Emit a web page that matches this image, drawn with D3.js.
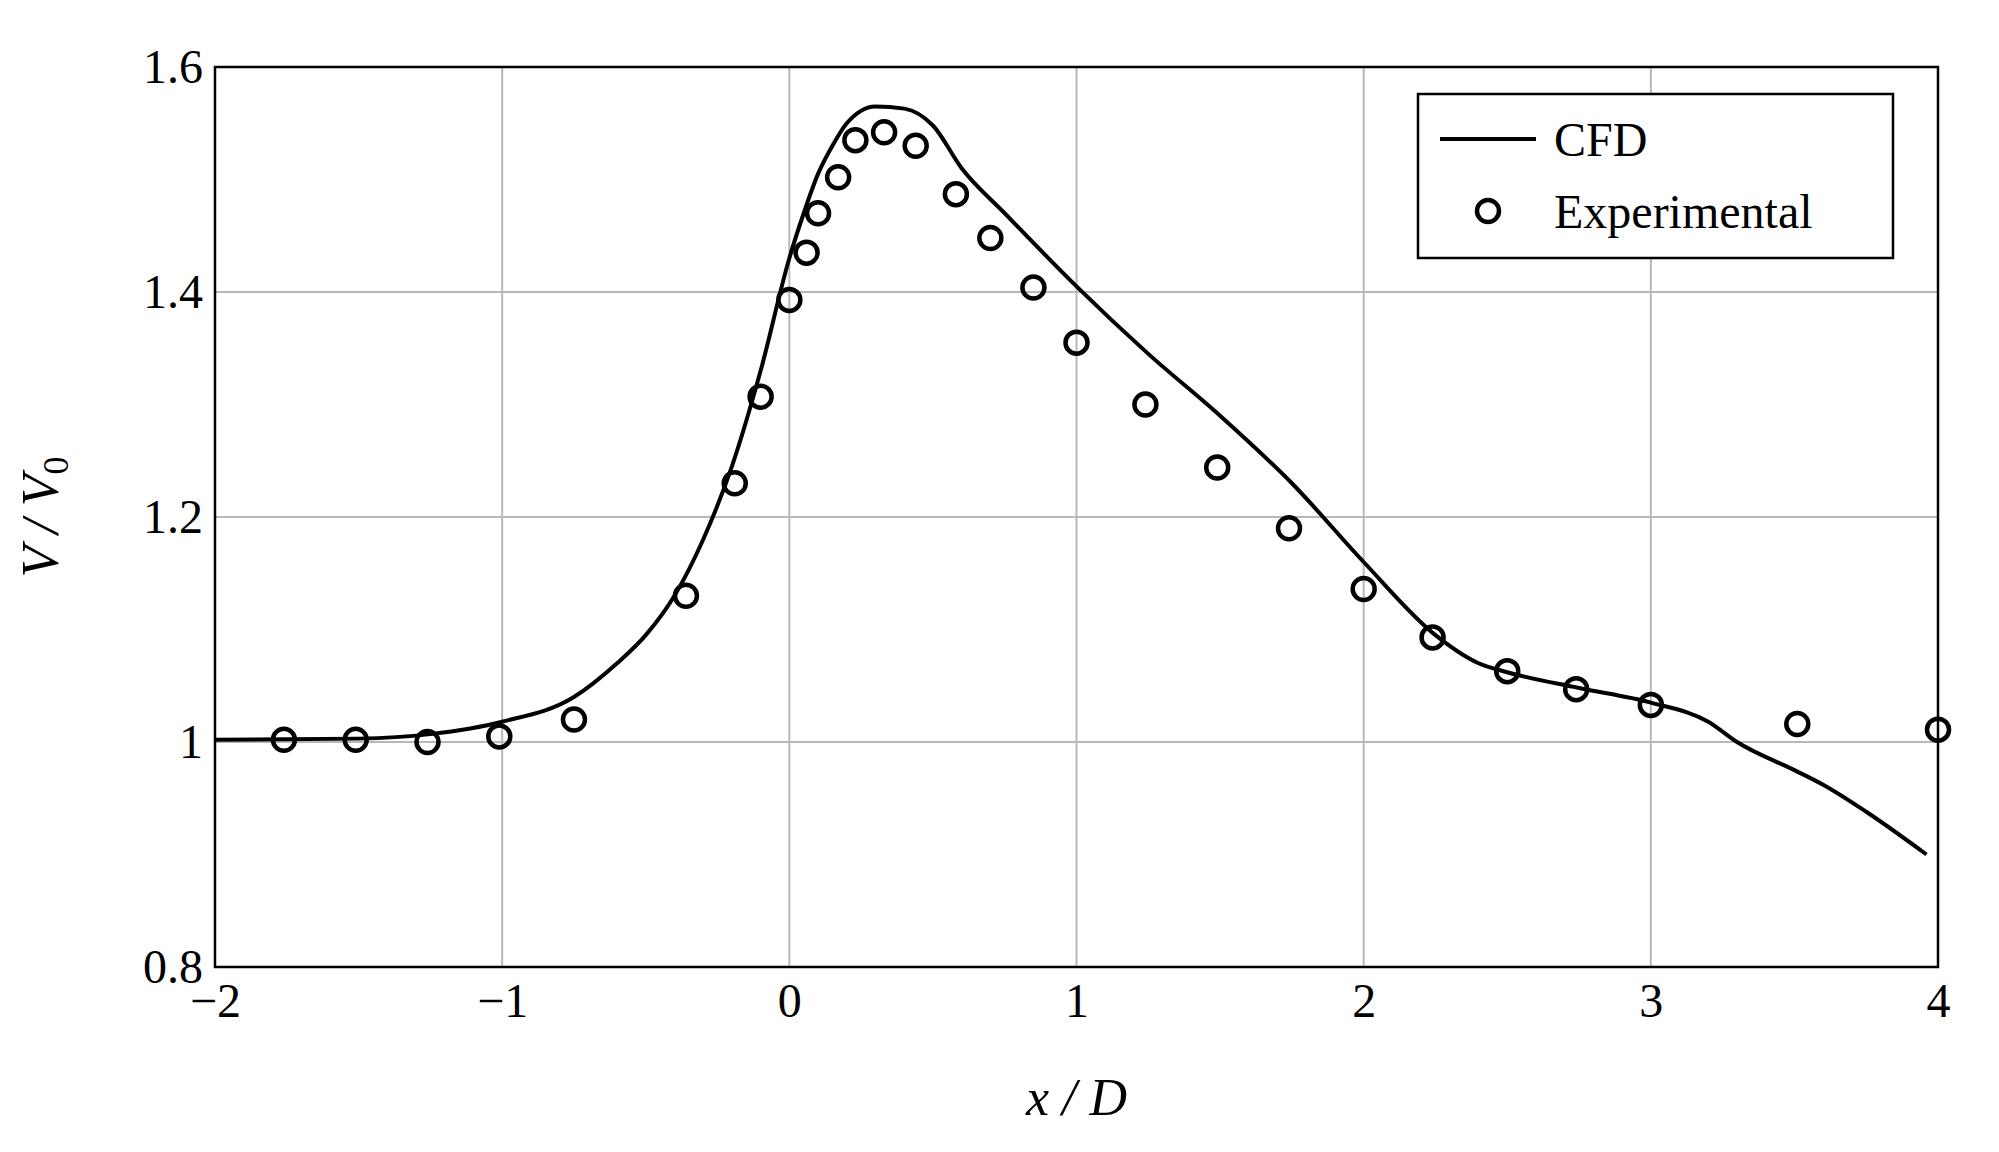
<!DOCTYPE html>
<html><head><meta charset="utf-8">
<script src="https://cdn.jsdelivr.net/npm/d3@7"></script>
<style>body{margin:0;background:#fff}svg{font-family:"Liberation Serif",serif}</style>
</head><body><div id="chart"></div>
<script>
// CFD curve
const cfdX = [-2,-1.5,-1.25,-1,-0.75,-0.6,-0.5,-0.4,-0.3,-0.2,-0.1,0,0.05,0.1,0.15,0.2,0.3,0.4,0.5,0.6,0.75,1,1.25,1.5,1.75,2,2.25,2.4,2.5,2.75,3,3.2,3.3,3.5,3.6,3.75,3.96];
const cfdY = [1.002,1.003,1.007,1.018,1.04,1.07,1.095,1.13,1.18,1.245,1.33,1.43,1.47,1.505,1.53,1.55,1.565,1.563,1.548,1.51,1.47,1.405,1.345,1.29,1.23,1.16,1.095,1.07,1.062,1.048,1.035,1.018,1.0,0.975,0.962,0.938,0.9];
// experimental points
const expX = [-1.76,-1.51,-1.26,-1.01,-0.75,-0.36,-0.19,-0.1,0,0.06,0.1,0.17,0.23,0.33,0.44,0.58,0.7,0.85,1,1.24,1.49,1.74,2,2.24,2.5,2.74,3,3.51,4];
const expY = [1.002,1.002,1.0,1.005,1.02,1.13,1.23,1.307,1.393,1.435,1.47,1.502,1.535,1.542,1.53,1.487,1.448,1.404,1.355,1.3,1.244,1.19,1.136,1.093,1.063,1.047,1.033,1.016,1.011];
const xTicks = [-2,-1,0,1,2,3,4];
const yTicks = [0.8,1,1.2,1.4,1.6];

const W = 1999, H = 1152;
const m = {left:215, right:61, top:67, bottom:185};
const svg = d3.select('#chart').append('svg').attr('width', W).attr('height', H);
const x = d3.scaleLinear().domain([-2,4]).range([m.left, W-m.right]);
const y = d3.scaleLinear().domain([0.8,1.6]).range([H-m.bottom, m.top]);

// grid
svg.append('g').selectAll('line').data(xTicks).enter().append('line')
  .attr('x1', d => x(d)).attr('x2', d => x(d)).attr('y1', m.top).attr('y2', H-m.bottom)
  .attr('stroke', '#b8b8b8').attr('stroke-width', 2);
svg.append('g').selectAll('line').data(yTicks).enter().append('line')
  .attr('x1', m.left).attr('x2', W-m.right).attr('y1', d => y(d)).attr('y2', d => y(d))
  .attr('stroke', '#b8b8b8').attr('stroke-width', 2);

const fmt = d => d < 0 ? '\u2212' + Math.abs(d) : String(d);
const xAxis = svg.append('g').attr('transform', `translate(0,${H-m.bottom})`)
  .call(d3.axisBottom(x).tickValues(xTicks).tickFormat(fmt).tickSize(0).tickPadding(16));
const yAxis = svg.append('g').attr('transform', `translate(${m.left},0)`)
  .call(d3.axisLeft(y).tickValues(yTicks).tickFormat(d => String(d)).tickSize(0).tickPadding(12));
[xAxis, yAxis].forEach(a => {
  a.select('.domain').remove();
  a.selectAll('text').attr('font-size', 48).attr('fill', '#000').attr('font-family', '"Liberation Serif",serif');
});

// line
const pts = cfdX.map((v, i) => [v, cfdY[i]]);
svg.append('path').datum(pts)
  .attr('d', d3.line().x(d => x(d[0])).y(d => y(d[1])).curve(d3.curveMonotoneX))
  .attr('fill', 'none').attr('stroke', '#000').attr('stroke-width', 4);

// markers
svg.append('g').selectAll('circle').data(expX).enter().append('circle')
  .attr('cx', d => x(d)).attr('cy', (d, i) => y(expY[i])).attr('r', 11)
  .attr('fill', 'none').attr('stroke', '#000').attr('stroke-width', 4.5);

// frame
svg.append('rect').attr('x', m.left).attr('y', m.top).attr('width', W-m.left-m.right).attr('height', H-m.top-m.bottom)
  .attr('fill', 'none').attr('stroke', '#000').attr('stroke-width', 2.5);

// axis titles
svg.append('text').attr('x', x(1)).attr('y', 1115).attr('text-anchor', 'middle')
  .attr('font-size', 52).attr('font-style', 'italic').text('x / D');
const yl = svg.append('text').attr('transform', `translate(58,${y(1.2)}) rotate(-90)`).attr('text-anchor', 'middle')
  .attr('font-size', 52).attr('font-style', 'italic');
yl.append('tspan').text('V / V');
yl.append('tspan').attr('font-size', 36).attr('font-style', 'normal').attr('dy', 10).text('0');

// legend
const lg = svg.append('g').attr('transform', 'translate(1418,94)');
lg.append('rect').attr('width', 475).attr('height', 164).attr('fill', '#fff').attr('stroke', '#000').attr('stroke-width', 2.5);
lg.append('line').attr('x1', 22).attr('x2', 118).attr('y1', 45).attr('y2', 45).attr('stroke', '#000').attr('stroke-width', 4);
lg.append('text').attr('x', 136).attr('y', 62).attr('font-size', 48).text('CFD');
lg.append('circle').attr('cx', 70).attr('cy', 117).attr('r', 11).attr('fill', 'none').attr('stroke', '#000').attr('stroke-width', 4.5);
lg.append('text').attr('x', 136).attr('y', 134).attr('font-size', 48).text('Experimental');
</script></body></html>
